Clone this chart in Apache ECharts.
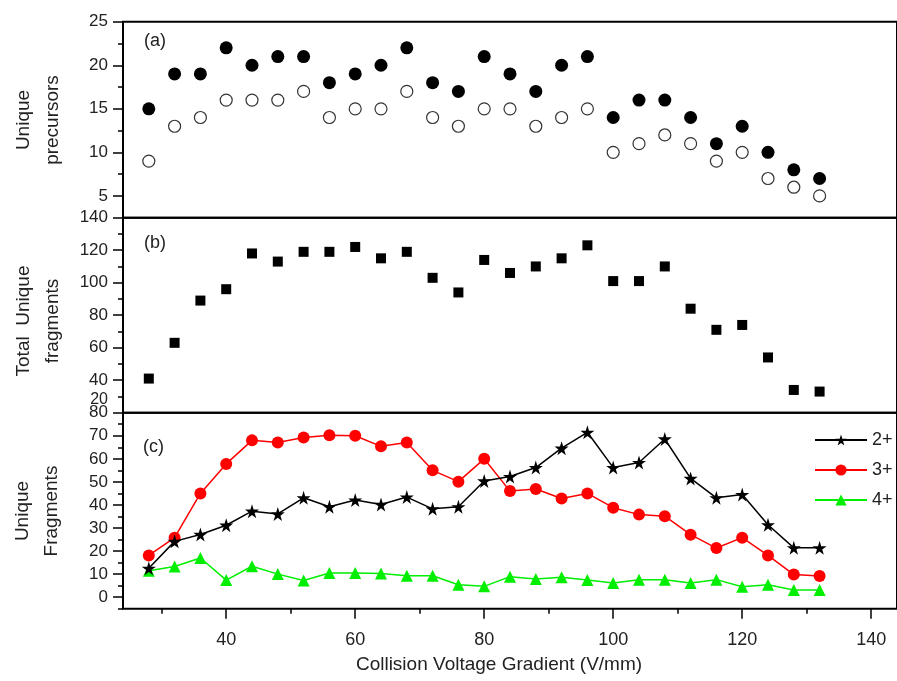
<!DOCTYPE html>
<html>
<head>
<meta charset="utf-8">
<script src="https://cdn.jsdelivr.net/npm/echarts@6/dist/echarts.min.js"></script>
<style>
html,body{margin:0;padding:0;background:#fff;}
#chart{width:897px;height:681px;}
</style>
</head>
<body>
<div id="chart"></div>
<script>
// ---- data ----
const xVals = [28,32,36,40,44,48,52,56,60,64,68,72,76,80,84,88,92,96,100,104,108,112,116,120,124,128,132];
const precursorsFilled = [15,19,19,22,20,21,21,18,19,20,22,18,17,21,19,17,20,21,14,16,16,14,11,13,10,8,7];
const precursorsOpen   = [9,13,14,16,16,16,17,14,15,15,17,14,13,15,15,13,14,15,10,11,12,11,9,10,7,6,5];
const totalFragments   = [41,63,89,96,118,113,119,119,122,115,119,103,94,114,106,110,115,123,101,101,110,84,71,74,54,34,33];
const frag2 = [12.5,24.2,27.2,31.2,37.3,36.1,43.1,39.2,42.1,40.2,43.4,38.3,39.2,50.4,52.3,56.2,64.6,71.5,56.2,58.4,68.6,51.5,43.1,44.5,31.4,21.4,21.4];
const frag3 = [18.1,25.8,45,57.8,68,67.1,69.2,70.2,70,65.4,67.1,55,50.1,60,46,46.9,42.8,45,38.8,35.8,35.1,27.1,21.3,25.8,18.1,9.8,9.2];
const frag4 = [11.5,13.3,17,7.4,13.4,10,7.2,10.5,10.5,10.3,9.3,9.3,5.4,4.7,8.9,7.9,8.6,7.4,6.1,7.6,7.6,6.1,7.6,4.5,5.4,3.1,3.1];
const seriesNames = ['2+','3+','4+'];
const xMajorTicks = [40,60,80,100,120,140];
const xMinorTicks = [30,50,70,90,110,130];

// ---- chart ----
const FONT = '"Liberation Sans", Arial, Helvetica, sans-serif';
const TXT = '#222';
const pair = arr => xVals.map((x,i)=>[x, arr[i]]);
const STAR = 'path://M50,0 L61,35 L98,35 L68,57 L79,91 L50,70 L21,91 L32,57 L2,35 L39,35 Z';
const TICK = {color:'#000', width:1.5};

const gridCommon = {left:123, right:-7, show:true, borderColor:'#000', borderWidth:2, containLabel:false};
const hiddenX = gi => ({type:'value', gridIndex:gi, min:24, max:144, position:'bottom',
  axisLine:{show:false, onZero:false}, axisTick:{show:false}, axisLabel:{show:false}, splitLine:{show:false}});
// major y axis: nice ticks, labels shown
const yMajor = (gi,min,max,split) => ({type:'value', gridIndex:gi, min:min, max:max, splitNumber:split, position:'left',
  axisLine:{show:false, onZero:false}, splitLine:{show:false},
  axisTick:{show:true, inside:false, length:10, lineStyle:TICK},
  axisLabel:{show:true, showMinLabel:false, margin:15, fontSize:17, color:TXT, fontFamily:FONT}});
// minor y axis overlay: ticks counted from min with the given interval, no labels
const yMinor = (gi,min,max,interval) => ({type:'value', gridIndex:gi, min:min, max:max, interval:interval, position:'left',
  axisLine:{show:false, onZero:false}, splitLine:{show:false},
  axisTick:{show:true, inside:false, length:5, lineStyle:TICK},
  axisLabel:{show:false}});

const option = {
  backgroundColor:'#fff',
  animation:false,
  textStyle:{fontFamily:FONT},
  grid:[
    Object.assign({top:21.7, height:196}, gridCommon),
    Object.assign({top:217.7, height:195}, gridCommon),
    Object.assign({top:412.7, height:196}, gridCommon)
  ],
  xAxis:[
    hiddenX(0),
    hiddenX(1),
    {type:'value', gridIndex:2, min:24, max:144, position:'bottom',
      axisLine:{show:false, onZero:false}, splitLine:{show:false},
      axisTick:{show:true, inside:false, length:10, customValues:xMajorTicks, lineStyle:TICK},
      axisLabel:{show:true, customValues:xMajorTicks, margin:22, fontSize:18, color:TXT, fontFamily:FONT}},
    {type:'value', gridIndex:2, min:24, max:144, position:'bottom',
      axisLine:{show:false, onZero:false}, splitLine:{show:false},
      axisTick:{show:true, inside:false, length:5, customValues:xMinorTicks, lineStyle:TICK},
      axisLabel:{show:false, customValues:xMinorTicks}}
  ],
  yAxis:[
    yMajor(0,2.5,25,5),
    yMinor(0,2.5,25,5),
    {type:'value', gridIndex:1, min:20, max:140, interval:20, position:'left',
      axisLine:{show:false, onZero:false}, splitLine:{show:false},
      axisTick:{show:true, inside:false, length:10, lineStyle:TICK},
      minorTick:{show:true, splitNumber:2, length:5, lineStyle:TICK},
      axisLabel:{show:true, margin:15, fontSize:17, color:TXT, fontFamily:FONT,
        formatter: v => v === 20 ? '{up|20}' : String(v),
        rich:{up:{fontSize:16, color:TXT, fontFamily:FONT, padding:[0,0,27,0]}}}},
    yMajor(2,-5,80,8),
    yMinor(2,-5,80,10)
  ],
  legend:{
    orient:'vertical', left:809, top:426, itemWidth:52, itemHeight:14, itemGap:12,
    data:seriesNames, textStyle:{fontSize:18, color:TXT, fontFamily:FONT}, itemStyle:{borderWidth:0}
  },
  series:[
    {type:'scatter', xAxisIndex:0, yAxisIndex:0, data:pair(precursorsOpen), symbol:'circle', symbolSize:12,
      itemStyle:{color:'#fff', borderColor:'#333', borderWidth:1.2, opacity:1}, z:2},
    {type:'scatter', xAxisIndex:0, yAxisIndex:0, data:pair(precursorsFilled), symbol:'circle', symbolSize:[13,13],
      itemStyle:{color:'#000', opacity:1}, z:3},
    {type:'scatter', xAxisIndex:1, yAxisIndex:2, data:pair(totalFragments), symbol:'rect', symbolSize:10,
      itemStyle:{color:'#000', opacity:1}},
    {type:'line', name:seriesNames[0], xAxisIndex:2, yAxisIndex:3, data:pair(frag2), symbol:STAR, symbolSize:14,
      lineStyle:{color:'#000', width:1.5}, itemStyle:{color:'#000'}, z:4},
    {type:'line', name:seriesNames[1], xAxisIndex:2, yAxisIndex:3, data:pair(frag3), symbol:'circle', symbolSize:12,
      lineStyle:{color:'#ff0000', width:1.5}, itemStyle:{color:'#ff0000'}, z:3},
    {type:'line', name:seriesNames[2], xAxisIndex:2, yAxisIndex:3, data:pair(frag4), symbol:'triangle', symbolSize:12,
      lineStyle:{color:'#00ee00', width:1.5}, itemStyle:{color:'#00ee00'}, z:2}
  ],
  graphic:[
    {type:'text', left:144, top:32, style:{text:'(a)', fontSize:18, fill:TXT, fontFamily:FONT}},
    {type:'text', left:144, top:234, style:{text:'(b)', fontSize:18, fill:TXT, fontFamily:FONT}},
    {type:'text', left:143, top:438, style:{text:'(c)', fontSize:18, fill:TXT, fontFamily:FONT}},
    {type:'text', x:38, y:120, rotation:Math.PI/2,
      style:{text:'Unique\nprecursors', fontSize:19, lineHeight:29, fill:TXT, fontFamily:FONT, align:'center', verticalAlign:'middle'}},
    {type:'text', x:38, y:321, rotation:Math.PI/2,
      style:{text:'Total  Unique\nfragments', fontSize:19, lineHeight:29, fill:TXT, fontFamily:FONT, align:'center', verticalAlign:'middle'}},
    {type:'text', x:37, y:511, rotation:Math.PI/2,
      style:{text:'Unique\nFragments', fontSize:19, lineHeight:29, fill:TXT, fontFamily:FONT, align:'center', verticalAlign:'middle'}},
    {type:'text', x:499, y:665,
      style:{text:'Collision Voltage Gradient (V/mm)', fontSize:19, fill:TXT, fontFamily:FONT, align:'center', verticalAlign:'middle'}}
  ]
};
const chart = echarts.init(document.getElementById('chart'), null, {renderer:'canvas'});
chart.setOption(option);
</script>
</body>
</html>
